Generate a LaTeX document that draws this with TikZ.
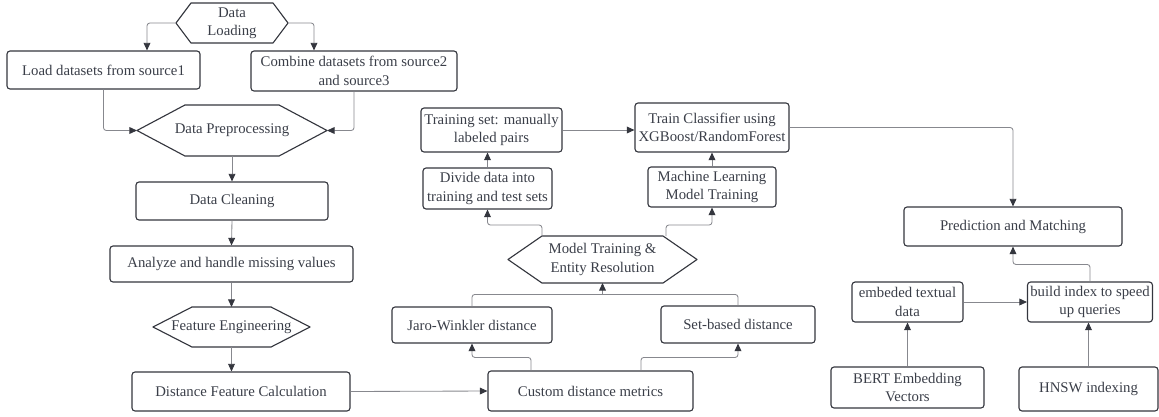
\documentclass[tikz,border=0pt]{standalone}
\usepackage{fontspec}
\setmainfont{Liberation Serif}
\usetikzlibrary{arrows.meta,calc,positioning}
\definecolor{inkc}{RGB}{58,62,72}
\definecolor{edgec}{RGB}{52,54,62}
\definecolor{linec}{RGB}{135,136,142}
\tikzset{box/.style={draw=edgec,line width=0.8pt,rounded corners=2.2pt,align=center,inner sep=2pt,text=inkc},
  hexa/.style={align=center,inner sep=0pt,outer sep=0pt,text=inkc},
  hexline/.style={draw=edgec,line width=0.8pt,line join=round},
  conn/.style={draw=linec,line width=0.6pt,rounded corners=2pt},
  arr/.style={conn,-{Triangle[length=1.9mm,width=1.7mm,color=edgec]}}}
\newcommand\hexout[2]{\draw[hexline] (#1.west) -- ($(#1.north west)+(#2,0)$) -- ($(#1.north east)-(#2,0)$)
  -- (#1.east) -- ($(#1.south east)-(#2,0)$) -- ($(#1.south west)+(#2,0)$) -- cycle;}

\begin{document}
\begin{tikzpicture}[x=0.025cm,y=-0.025cm,font=\fontsize{10.5}{13}\selectfont]
\useasboundingbox (0,0) rectangle (1159,416);
% left column
\node[hexa,minimum width=2.8cm,minimum height=1cm] (dload) at (232,23) {Data\\Loading};
\hexout{dload}{15}
\node[box,minimum width=4.825cm,minimum height=0.95cm] (load) at (103.5,70) {Load datasets from source1};
\node[box,minimum width=5.15cm,minimum height=1cm] (combine) at (354,71) {Combine datasets from source2\\and source3};
\node[hexa,minimum width=4.75cm,minimum height=1.275cm] (dprep) at (232,130.5) {Data Preprocessing};
\hexout{dprep}{48}
\node[box,minimum width=4.8cm,minimum height=0.95cm] (dclean) at (232,201) {Data Cleaning};
\node[box,minimum width=6.075cm,minimum height=0.9cm] (analyze) at (231.5,264) {Analyze and handle missing values};
\node[hexa,minimum width=3.925cm,minimum height=1cm] (feateng) at (231.5,327) {Feature Engineering};
\hexout{feateng}{39}
\node[box,minimum width=5.45cm,minimum height=0.975cm] (distcalc) at (241,391.5) {Distance Feature Calculation};
% middle part
\node[box,minimum width=5.125cm,minimum height=1cm] (custom) at (590.5,391) {Custom distance metrics};
\node[box,minimum width=4cm,minimum height=0.9cm] (jaro) at (472,325) {Jaro-Winkler distance};
\node[box,minimum width=3.85cm,minimum height=0.925cm] (setbased) at (738,324.5) {Set-based distance};
\node[hexa,minimum width=4.725cm,minimum height=1.175cm] (modeltrain) at (602.5,259.5) {Model Training \&\\Entity Resolution};
\hexout{modeltrain}{34}
\node[box,minimum width=3.225cm,minimum height=1.025cm] (divide) at (487.5,188.5) {Divide data into\\training and test sets};
\node[box,minimum width=3.525cm,minimum height=1.1cm] (trainset) at (491.5,130) {Training set: manually\\labeled pairs};
\node[box,minimum width=3.85cm,minimum height=1.225cm] (classifier) at (712,127.5) {Train Classifier using\\XGBoost/RandomForest};
\node[box,minimum width=3.2cm,minimum height=1cm] (mltrain) at (712,187) {Machine Learning\\Model Training};
% right part
\node[box,minimum width=5.45cm,minimum height=0.975cm] (predict) at (1013,226.5) {Prediction and Matching};
\node[box,minimum width=2.775cm,minimum height=1cm] (embed) at (907.5,302) {embeded textual\\data};
\node[box,minimum width=3.05cm,minimum height=1cm] (buildidx) at (1090,302) {build index to speed\\up queries};
\node[box,minimum width=3.825cm,minimum height=1.025cm] (bert) at (907.5,387.5) {BERT Embedding\\Vectors};
\node[box,minimum width=3.475cm,minimum height=1.1cm] (hnsw) at (1088.5,389) {HNSW indexing};

% connectors
\draw[arr] (dload.west) -| (147,0 |- load.north);
\draw[arr] (dload.east) -| (314,0 |- combine.north);
\draw[arr] (load.south) |- (dprep.west);
\draw[arr] (combine.south) |- (dprep.east);
\draw[arr] (dprep.south) -- (dclean.north);
\draw[arr] (dclean.south) -- (analyze.north);
\draw[arr] (analyze.south) -- (feateng.north);
\draw[arr] (feateng.south) -- (feateng.south |- distcalc.north);
\draw[arr] (distcalc.east) -- (custom.west);
\draw[arr] (531,0 |- custom.north) -- ++(0,-13) -| (jaro.south);
\draw[arr] (641,0 |- custom.north) -- ++(0,-13) -| (setbased.south);
\draw[conn] (jaro.north) -- ++(0,-12) -| (setbased.north);
\coordinate (join) at (modeltrain.south |- 0,295);
\draw[arr] (join) -- (modeltrain.south);
\draw[arr] ($(modeltrain.north west)+(34,0)$) -- ++(0,-11) -| (divide.south);
\draw[arr] ($(modeltrain.north east)-(31,0)$) -- ++(0,-11) -| (mltrain.south);
\draw[arr] (divide.north) -- (divide.north |- trainset.south);
\draw[arr] (mltrain.north) -- (classifier.south);
\draw[arr] (trainset.east) -- (trainset.east -| classifier.west);
\draw[arr] (classifier.east) -| (predict.north);
\draw[arr] (buildidx.north) -- ++(0,-17) -| (predict.south);
\draw[arr] (embed.east) -- (buildidx.west);
\draw[arr] (bert.north) -- (embed.south);
\draw[arr] (hnsw.north) -- (hnsw.north |- buildidx.south);
\end{tikzpicture}
\end{document}
